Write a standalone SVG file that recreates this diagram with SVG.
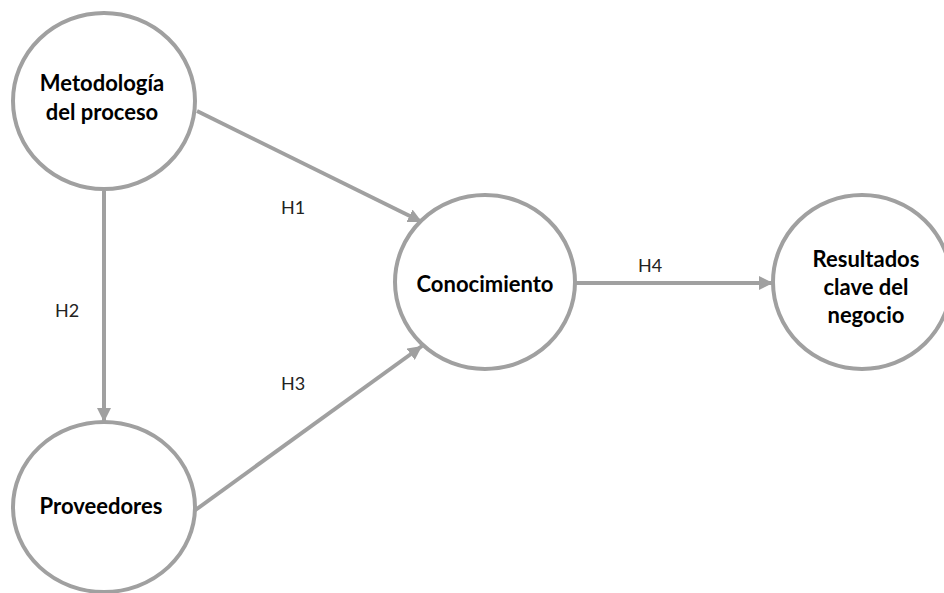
<svg xmlns="http://www.w3.org/2000/svg" width="944" height="593" viewBox="0 0 944 593">
  <style>
    .node { fill: #ffffff; stroke: #a0a0a0; stroke-width: 4; }
    .name { font-family: "Lato", "Liberation Sans", sans-serif; font-weight: bold; font-size: 22px; fill: #000000; text-anchor: middle; }
    .edge { stroke: #a0a0a0; stroke-width: 4; fill: none; marker-end: url(#arrow); }
    .hyp { font-family: "Lato", "Liberation Sans", sans-serif; font-size: 18px; fill: #222222; text-anchor: middle; }
  </style>
  <defs>
    <marker id="arrow" markerUnits="userSpaceOnUse" markerWidth="16" markerHeight="14" refX="14" refY="7" orient="auto">
      <path d="M0,0 L14,7 L0,14 Z" fill="#a0a0a0"/>
    </marker>
  </defs>
  <rect width="944" height="593" fill="#ffffff"/>

  <g id="connectors">
    <line class="edge" x1="197" y1="111" x2="422" y2="222"/>
    <line class="edge" x1="104" y1="191" x2="104" y2="422"/>
    <line class="edge" x1="194" y1="511" x2="422" y2="346"/>
    <line class="edge" x1="576" y1="283" x2="773" y2="283"/>
    <text class="hyp" x="293" y="214">H1</text>
    <text class="hyp" x="67" y="317">H2</text>
    <text class="hyp" x="293" y="390">H3</text>
    <text class="hyp" x="650" y="272">H4</text>
  </g>

  <g id="metodologia">
    <ellipse class="node" cx="104" cy="101" rx="91" ry="88"/>
    <text class="name" x="102" y="91">Metodología</text>
    <text class="name" x="102" y="120">del proceso</text>
  </g>

  <g id="proveedores">
    <ellipse class="node" cx="104" cy="507" rx="91" ry="85"/>
    <text class="name" x="101" y="514">Proveedores</text>
  </g>

  <g id="conocimiento">
    <ellipse class="node" cx="485" cy="282" rx="90" ry="87"/>
    <text class="name" x="485" y="292">Conocimiento</text>
  </g>

  <g id="resultados">
    <ellipse class="node" cx="862" cy="282" rx="89" ry="87"/>
    <text class="name" x="866" y="267">Resultados</text>
    <text class="name" x="866" y="295">clave del</text>
    <text class="name" x="866" y="323">negocio</text>
  </g>
</svg>
